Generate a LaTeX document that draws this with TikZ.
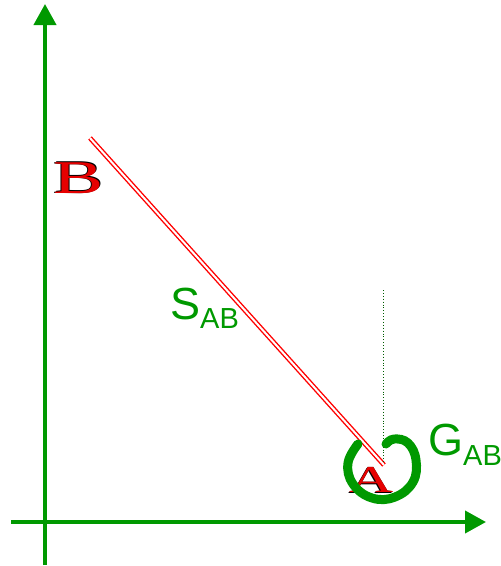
\documentclass[tikz,border=0pt]{standalone}
\usepackage{fontspec}
\setmainfont{Liberation Serif}
\newfontfamily\labelfont{Liberation Sans}
\usetikzlibrary{arrows.meta}
\definecolor{axisgreen}{RGB}{0,153,0}
\definecolor{letterred}{RGB}{230,0,0}
\newcommand{\outlined}[1]{%
  \makebox[0pt]{\raisebox{-0.6pt}{\makebox[0pt]{\hspace{-1.2pt}\color{black}#1}}}%
  \makebox[0pt]{\raisebox{0.5pt}{\makebox[0pt]{\hspace{1pt}\color{black}#1}}}%
  \makebox[0pt]{\color{letterred}#1}}
\begin{document}
\begin{tikzpicture}[x = 1pt, y = -1pt,
  axis/.style = {draw = axisgreen, line width = 4pt, -{Triangle[length = 21pt, width = 22pt]}},
  pointlabel/.style = {inner sep = 0pt, xscale = 1.6},
  glabel/.style = {text = axisgreen, inner sep = 0pt, font = \labelfont\fontsize{45}{45}\selectfont}]
\useasboundingbox (0,0) rectangle (501,566);
% axes
\draw[axis] (45,565) -- (45,4);
\draw[axis] (11,522) -- (486,522);
% points
\coordinate (sTop) at (90,138);
\coordinate (sBot) at (384,465);
\node[pointlabel, font = \fontsize{47}{47}\selectfont] (b) at (79,178) {\outlined{B}};
\node[pointlabel, font = \fontsize{38}{38}\selectfont] (a) at (371,480) {\outlined{A}};
% segment and angle
\draw[draw = red, line width = 1.4pt, double = white, double distance = 2pt] (sTop) -- (sBot);
\coordinate (vTop) at (383,290);
\coordinate (vBot) at (383,462);
\draw[axisgreen!60!black, line width = 0.9pt, dotted] (vTop) -- (vBot);
\draw[axisgreen, line width = 9pt, line cap = round] plot[smooth, tension = 0.7] coordinates
  {(358,444) (348,463) (353,484) (372,498) (395,497) (413,482) (416,460) (408,443) (394,439) (386,444)};
% labels
\node[glabel, anchor = base west] (sab) at (170,319) {S\raisebox{-9pt}{\fontsize{29}{29}\selectfont AB}};
\node[glabel, anchor = base west] (gab) at (428,455) {G\raisebox{-10pt}{\fontsize{29}{29}\selectfont AB}};
\end{tikzpicture}
\end{document}
